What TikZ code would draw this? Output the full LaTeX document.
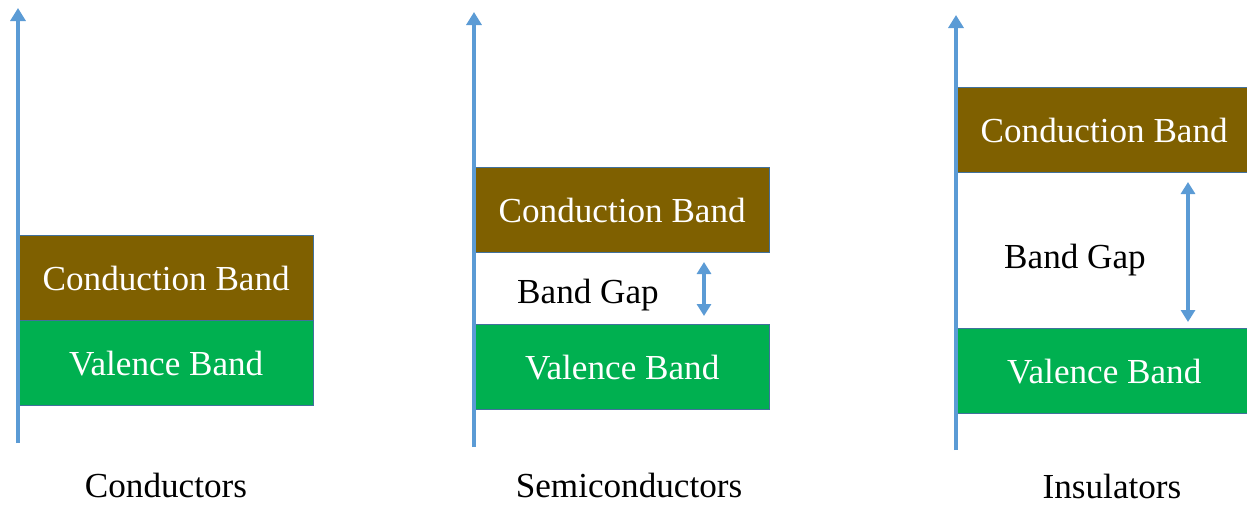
\documentclass[tikz,border=0pt]{standalone}
\usepackage{fontspec}
\setmainfont{Liberation Serif}
\usetikzlibrary{arrows.meta}

\definecolor{cbbrown}{HTML}{7F6000}
\definecolor{vbgreen}{HTML}{00B050}
\definecolor{axisblue}{HTML}{5B9BD5}
\definecolor{edgeblue}{HTML}{41719C}

\begin{document}
\begin{tikzpicture}[
    band/.style={draw=edgeblue, line width=0.8pt, minimum width=5.9cm,
      minimum height=1.7cm, anchor=north west, inner sep=0pt,
      text=white, font=\fontsize{20}{24}\selectfont},
    cond/.style={band, fill=cbbrown},
    val/.style={band, fill=vbgreen},
    energy/.style={draw=axisblue, line width=2.4pt,
      -{Triangle[width=0.3cm,length=0.26cm]}},
    gap/.style={draw=axisblue, line width=2.4pt,
      {Triangle[width=0.28cm,length=0.24cm]}-{Triangle[width=0.28cm,length=0.24cm]}},
    caption/.style={font=\fontsize{20}{24}\selectfont, inner sep=0pt},
  ]
  \useasboundingbox (0,0) rectangle (24.94,-10.12);

  % conductors: bands overlap
  \node[cond] (cb1) at (0.36,-4.70) {Conduction Band};
  \node[val] (vb1) at (0.36,-6.40) {Valence Band};
  \coordinate (bot1) at (0.36,-8.86);
  \coordinate (top1) at (0.36,-0.16);
  \draw[energy] (bot1) -- (top1);
  \node[caption] (lab1) at (3.32,-9.70) {Conductors};

  % semiconductors: small gap
  \node[cond] (cb2) at (9.48,-3.34) {Conduction Band};
  \node[val] (vb2) at (9.48,-6.48) {Valence Band};
  \coordinate (bot2) at (9.48,-8.94);
  \coordinate (top2) at (9.48,-0.24);
  \draw[energy] (bot2) -- (top2);
  \node[caption] (gap2) at (11.76,-5.90) {Band Gap};
  \coordinate (g2a) at (14.08,-5.24);
  \coordinate (g2b) at (14.08,-6.32);
  \draw[gap] (g2a) -- (g2b);
  \node[caption] (lab2) at (12.58,-9.70) {Semiconductors};

  % insulators: large gap
  \node[cond] (cb3) at (19.12,-1.74) {Conduction Band};
  \node[val] (vb3) at (19.12,-6.56) {Valence Band};
  \coordinate (bot3) at (19.12,-9.00);
  \coordinate (top3) at (19.12,-0.30);
  \draw[energy] (bot3) -- (top3);
  \node[caption] (gap3) at (21.5,-5.20) {Band Gap};
  \coordinate (g3a) at (23.76,-3.64);
  \coordinate (g3b) at (23.76,-6.44);
  \draw[gap] (g3a) -- (g3b);
  \node[caption] (lab3) at (22.24,-9.72) {Insulators};
\end{tikzpicture}
\end{document}
